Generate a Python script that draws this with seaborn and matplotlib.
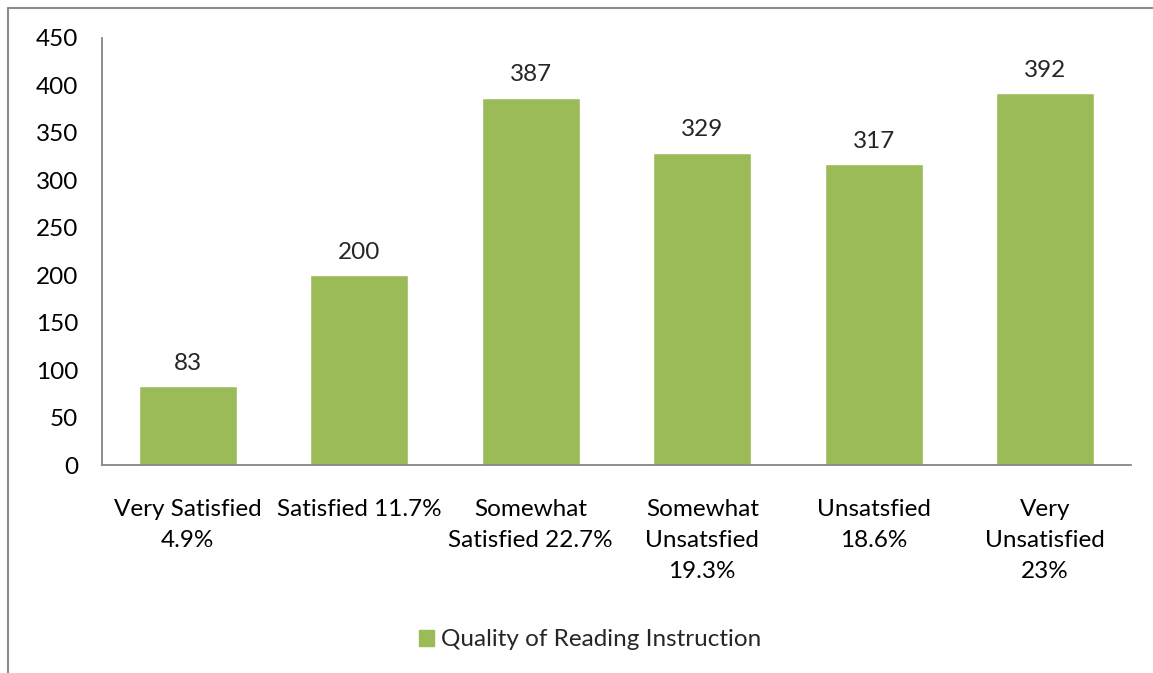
import pandas as pd
import matplotlib.pyplot as plt
import seaborn as sns
from matplotlib.lines import Line2D
from matplotlib.patches import Patch

# data
categories = ["Very Satisfied\n4.9%", "Satisfied 11.7%", "Somewhat\nSatisfied 22.7%",
              "Somewhat\nUnsatsfied\n19.3%", "Unsatsfied\n18.6%", "Very\nUnsatisfied\n23%"]
counts = [83, 200, 387, 329, 317, 392]
series_name = "Quality of Reading Instruction"
yticks = [0, 50, 100, 150, 200, 250, 300, 350, 400, 450]

sns.set_style("white")
plt.rcParams['font.family'] = ['Lato', 'DejaVu Sans']
fs = 17.5

df = pd.DataFrame({"category": categories, "count": counts})

fig = plt.figure(figsize=(11.53, 6.73), dpi=100)
ax = fig.add_axes([102/1153, 1 - 465/673, 1029/1153, 427/673])

green = "#9BBB59"
sns.barplot(data=df, x="category", y="count", color=green, width=0.57,
            saturation=1, ax=ax)

ax.set_ylim(0, 450)
ax.set_yticks(yticks)
ax.set_xlim(-0.5, len(categories) - 0.5)
ax.set_xlabel("")
ax.set_ylabel("")
ax.tick_params(axis="both", length=0, labelsize=fs, colors="black")
ax.tick_params(axis="y", pad=17)
ax.tick_params(axis="x", pad=24.5)
for lbl in ax.get_xticklabels():
    lbl.set_linespacing(1.58)

for s in ["top", "right"]:
    ax.spines[s].set_visible(False)
for s in ["left", "bottom"]:
    ax.spines[s].set_color("#868686")
    ax.spines[s].set_linewidth(1.3)

ax.bar_label(ax.containers[0], labels=[str(c) for c in counts],
             padding=9, fontsize=fs)

ax.legend(handles=[Patch(color=green, label=series_name)],
          loc="center", bbox_to_anchor=(590/1153, 1 - 640/673),
          bbox_transform=fig.transFigure, frameon=False, fontsize=fs,
          handlelength=0.6, handleheight=0.6, handletextpad=0.3)

# outer chart border (only left and top visible in the crop)
fig.add_artist(Line2D([8/1153, 8/1153], [0, 1 - 8/673], color="#8c8c8c", lw=1.5))
fig.add_artist(Line2D([8/1153, 1], [1 - 8/673, 1 - 8/673], color="#8c8c8c", lw=1.5))

fig.savefig("out.png", dpi=100)
